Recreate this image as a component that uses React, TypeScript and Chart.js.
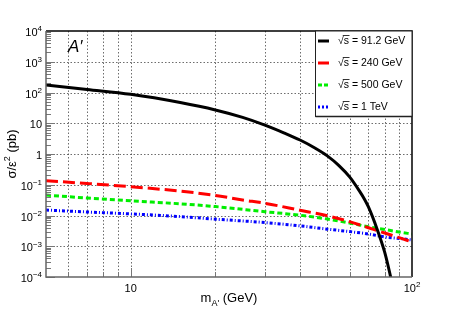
import React, { useEffect, useRef } from "react";
import { Chart, registerables } from "chart.js";

Chart.register(...registerables);

// ---- data ----
const massBlack = [5, 7, 10, 15, 20, 25, 30, 35, 40, 45, 50, 55, 60, 65, 68, 70, 75, 80, 83, 85];
const sigmaBlack = [175, 125, 87, 47, 27, 15.5, 8.7, 4.9, 2.85, 1.6, 0.87, 0.42, 0.18, 0.063, 0.032, 0.019, 0.0038, 0.00063, 0.00016, 0.00006];

const massRed = [5, 7, 10, 15, 20, 25, 30, 40, 50, 60, 70, 80, 90, 100];
const sigmaRed = [0.135, 0.11, 0.0865, 0.062, 0.045, 0.032, 0.025, 0.0148, 0.0098, 0.0063, 0.004, 0.0027, 0.0019, 0.00138];

const massGreen = [5, 7, 10, 15, 20, 30, 40, 50, 60, 70, 80, 90, 100];
const sigmaGreen = [0.046, 0.037, 0.03, 0.024, 0.0195, 0.0133, 0.0102, 0.0077, 0.0057, 0.0043, 0.0035, 0.0029, 0.0025];

const massBlue = [5, 7, 10, 15, 20, 30, 40, 50, 60, 70, 80, 90, 100];
const sigmaBlue = [0.015, 0.013, 0.0113, 0.0092, 0.0076, 0.0059, 0.0046, 0.0036, 0.003, 0.0025, 0.002, 0.0018, 0.0016];

const seriesLabels = ["91.2 GeV", "240 GeV", "500 GeV", "1 TeV"];

const xMin = 5;
const xMax = 100;
const yMin = 1e-4;
const yMax = 1e4;

const xTickValues = [6, 7, 8, 9, 10, 20, 30, 40, 50, 60, 70, 80, 90];
const xLabelValues = [10, 100];
const xLabelBase = ["10", "10"];
const xLabelExp = ["", "2"];

const yDecades = [1e-4, 1e-3, 1e-2, 1e-1, 1, 10, 100, 1e3, 1e4];
const yLabelBase = ["10", "10", "10", "10", "1", "10", "10", "10", "10"];
const yLabelExp = ["\u22124", "\u22123", "\u22122", "\u22121", "", "", "2", "3", "4"];

const FONT = '"Liberation Sans", Arial, Helvetica, sans-serif';

const colors = ["#000000", "#ff0000", "#00ee00", "#0000ff"];
const dashes: number[][] = [[], [12, 5], [5, 3], [3, 2, 1, 2]];
const legendDashes: number[][] = [[], [], [4, 2], [2, 2]];

function drawSup(
  ctx: CanvasRenderingContext2D,
  base: string,
  sup: string,
  x: number,
  y: number,
  align: "left" | "right" | "center",
  bs: number,
  ss: number
) {
  ctx.font = `${bs}px ${FONT}`;
  const wb = ctx.measureText(base).width;
  ctx.font = `${ss}px ${FONT}`;
  const ws = sup ? ctx.measureText(sup).width : 0;
  const total = wb + ws;
  const x0 = align === "right" ? x - total : align === "center" ? x - total / 2 : x;
  ctx.textAlign = "left";
  ctx.textBaseline = "alphabetic";
  ctx.font = `${bs}px ${FONT}`;
  ctx.fillText(base, x0, y);
  if (sup) {
    ctx.font = `${ss}px ${FONT}`;
    ctx.fillText(sup, x0 + wb, y - bs * 0.42);
  }
}

const rootPlugin = {
  id: "rootStyle",
  beforeDatasetsDraw(chart: any) {
    const { ctx, chartArea: a, scales } = chart;
    const xs = scales.x;
    const ys = scales.y;
    ctx.save();
    ctx.strokeStyle = "rgba(60,60,60,0.75)";
    ctx.lineWidth = 1;
    ctx.setLineDash([1.5, 2]);
    for (const v of xTickValues) {
      const px = Math.round(xs.getPixelForValue(v)) + 0.5;
      ctx.beginPath();
      ctx.moveTo(px, a.top);
      ctx.lineTo(px, a.bottom);
      ctx.stroke();
    }
    for (const v of yDecades) {
      if (v === yMin || v === yMax) continue;
      const py = Math.round(ys.getPixelForValue(v)) + 0.5;
      ctx.beginPath();
      ctx.moveTo(a.left, py);
      ctx.lineTo(a.right, py);
      ctx.stroke();
    }
    ctx.restore();
  },
  afterDatasetsDraw(chart: any) {
    const { ctx, chartArea: a, scales } = chart;
    const xs = scales.x;
    const ys = scales.y;
    ctx.save();
    ctx.setLineDash([]);

    // ticks on left axis (inside)
    ctx.strokeStyle = "#777777";
    ctx.lineWidth = 1;
    for (let e = -4; e < 4; e++) {
      for (let m = 1; m <= 9; m++) {
        const v = m * Math.pow(10, e);
        const py = Math.round(ys.getPixelForValue(v)) + 0.5;
        const len = m === 1 ? 9 : 5;
        ctx.beginPath();
        ctx.moveTo(a.left, py);
        ctx.lineTo(a.left + len, py);
        ctx.stroke();
      }
    }
    // ticks on bottom axis (inside)
    for (const v of xTickValues) {
      const px = Math.round(xs.getPixelForValue(v)) + 0.5;
      const len = v === 10 ? 9 : 5;
      ctx.beginPath();
      ctx.moveTo(px, a.bottom);
      ctx.lineTo(px, a.bottom - len);
      ctx.stroke();
    }

    // frame
    ctx.strokeStyle = "#000000";
    ctx.lineWidth = 1.5;
    ctx.beginPath();
    ctx.moveTo(a.left, a.top);
    ctx.lineTo(a.right, a.top);
    ctx.lineTo(a.right, a.bottom);
    ctx.stroke();
    ctx.strokeStyle = "#666666";
    ctx.lineWidth = 1.5;
    ctx.beginPath();
    ctx.moveTo(a.left, a.top);
    ctx.lineTo(a.left, a.bottom);
    ctx.lineTo(a.right, a.bottom);
    ctx.stroke();

    // tick labels
    ctx.fillStyle = "#000000";
    yDecades.forEach((v, i) => {
      const py = ys.getPixelForValue(v);
      drawSup(ctx, yLabelBase[i], yLabelExp[i], a.left - 4, py + 5, "right", 11, 8);
    });
    xLabelValues.forEach((v, i) => {
      const px = xs.getPixelForValue(v);
      drawSup(ctx, xLabelBase[i], xLabelExp[i], px, a.bottom + 15, "center", 11, 8);
    });

    // x title: m_{A'} (GeV)
    {
      const bs = 13;
      const ss = 9;
      ctx.font = `${bs}px ${FONT}`;
      const wm = ctx.measureText("m").width;
      const wr = ctx.measureText(" (GeV)").width;
      ctx.font = `${ss}px ${FONT}`;
      const wsub = ctx.measureText("A'").width;
      const total = wm + wsub + wr;
      const cx = (a.left + a.right) / 2;
      const x0 = cx - total / 2;
      const by = 302;
      ctx.textAlign = "left";
      ctx.textBaseline = "alphabetic";
      ctx.font = `${bs}px ${FONT}`;
      ctx.fillText("m", x0, by);
      ctx.font = `${ss}px ${FONT}`;
      ctx.fillText("A'", x0 + wm, by + 4);
      ctx.font = `${bs}px ${FONT}`;
      ctx.fillText(" (GeV)", x0 + wm + wsub, by);
    }

    // y title: sigma/epsilon^2 (pb)
    {
      const bs = 13;
      const ss = 9;
      ctx.save();
      ctx.translate(16, (a.top + a.bottom) / 2);
      ctx.rotate(-Math.PI / 2);
      ctx.font = `${bs}px ${FONT}`;
      const w1 = ctx.measureText("\u03c3/\u03b5").width;
      const w3 = ctx.measureText(" (pb)").width;
      ctx.font = `${ss}px ${FONT}`;
      const w2 = ctx.measureText("2").width;
      const total = w1 + w2 + w3;
      const x0 = -total / 2;
      ctx.textAlign = "left";
      ctx.textBaseline = "alphabetic";
      ctx.font = `${bs}px ${FONT}`;
      ctx.fillText("\u03c3/\u03b5", x0, 0);
      ctx.font = `${ss}px ${FONT}`;
      ctx.fillText("2", x0 + w1, -6);
      ctx.font = `${bs}px ${FONT}`;
      ctx.fillText(" (pb)", x0 + w1 + w2, 0);
      ctx.restore();
    }

    // A' label
    ctx.font = `italic 17px ${FONT}`;
    ctx.textAlign = "left";
    ctx.textBaseline = "alphabetic";
    ctx.fillText("A\u2032", a.left + 22, a.top + 21);

    // legend
    const lx0 = 315.5;
    const lx1 = a.right;
    const ly0 = a.top;
    const ly1 = 116.5;
    ctx.fillStyle = "#ffffff";
    ctx.fillRect(lx0, ly0, lx1 - lx0, ly1 - ly0);
    ctx.strokeStyle = "#222222";
    ctx.lineWidth = 1;
    ctx.strokeRect(lx0, ly0, lx1 - lx0, ly1 - ly0);
    ctx.lineWidth = 1.5;
    ctx.beginPath();
    ctx.moveTo(lx0, ly1);
    ctx.lineTo(lx1, ly1);
    ctx.stroke();

    const rowY = [41, 63, 85, 107];
    seriesLabels.forEach((lab, i) => {
      const y = rowY[i];
      ctx.strokeStyle = colors[i];
      ctx.lineWidth = 3;
      ctx.setLineDash(legendDashes[i]);
      ctx.beginPath();
      ctx.moveTo(318, y);
      ctx.lineTo(329, y);
      ctx.stroke();
      ctx.setLineDash([]);
      ctx.fillStyle = "#000000";
      ctx.font = `10.5px ${FONT}`;
      ctx.textAlign = "left";
      ctx.textBaseline = "middle";
      const tx = 338;
      ctx.fillText("\u221a", tx, y);
      const wr = ctx.measureText("\u221a").width;
      ctx.fillText("s", tx + wr, y);
      const ws = ctx.measureText("s").width;
      ctx.strokeStyle = "#000000";
      ctx.lineWidth = 0.8;
      ctx.beginPath();
      ctx.moveTo(tx + wr - 1, y - 5.5);
      ctx.lineTo(tx + wr + ws + 0.5, y - 5.5);
      ctx.stroke();
      ctx.fillText(" = " + lab, tx + wr + ws, y);
    });

    ctx.restore();
  },
};

function makeData(mass: number[], sigma: number[]) {
  return mass.map((m, i) => ({ x: m, y: sigma[i] }));
}

export default function App() {
  const ref = useRef<HTMLCanvasElement | null>(null);
  useEffect(() => {
    if (!ref.current) return;
    const series = [
      makeData(massBlack, sigmaBlack),
      makeData(massRed, sigmaRed),
      makeData(massGreen, sigmaGreen),
      makeData(massBlue, sigmaBlue),
    ];
    const chart = new Chart(ref.current, {
      type: "line",
      data: {
        datasets: series.map((d, i) => ({
          label: seriesLabels[i],
          data: d,
          borderColor: colors[i],
          backgroundColor: colors[i],
          borderWidth: 3,
          borderDash: dashes[i],
          pointRadius: 0,
          fill: false,
          cubicInterpolationMode: "monotone" as const,
          clip: 0,
        })),
      },
      options: {
        responsive: false,
        animation: false,
        devicePixelRatio: 1,
        layout: { padding: { left: 46, right: 45, top: 31, bottom: 32 } },
        plugins: { legend: { display: false }, tooltip: { enabled: false } },
        scales: {
          x: { type: "logarithmic", min: xMin, max: xMax, display: false },
          y: { type: "logarithmic", min: yMin, max: yMax, display: false },
        },
      },
      plugins: [rootPlugin],
    });
    return () => chart.destroy();
  }, []);
  return (
    <div style={{ position: "fixed", left: 0, top: 0, width: 457, height: 309, background: "#fff" }}>
      <canvas ref={ref} width={457} height={309} style={{ display: "block" }} />
    </div>
  );
}
